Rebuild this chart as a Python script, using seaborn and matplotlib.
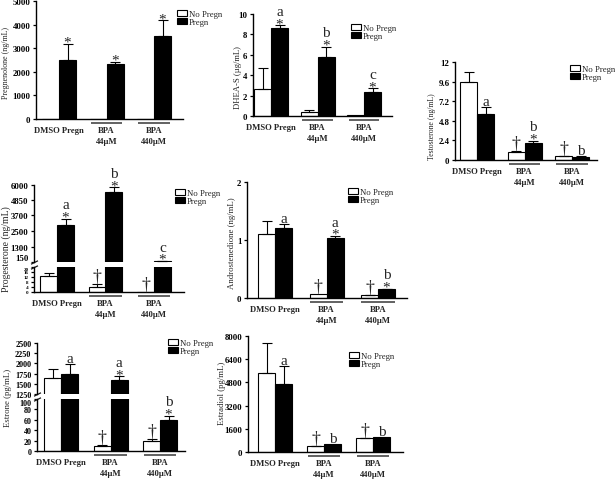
import numpy as np
import pandas as pd
import matplotlib
matplotlib.use("Agg")
import matplotlib.pyplot as plt
import matplotlib.transforms as mtransforms
from matplotlib.patches import Patch
import seaborn as sns

sns.set_theme(style="ticks")
plt.rcParams['font.family'] = ['Liberation Serif', 'DejaVu Serif']

# ---------------- data ----------------
categories = ["DMSO Pregn", "BPA\n44µM", "BPA\n440µM"]
conditions = ["No Pregn", "Pregn"]

# marks are stacked bottom -> top
preg_no = [0, 0, 0]
preg_no_err = [0, 0, 0]
preg_yes = [2480, 2330, 3500]
preg_yes_err = [700, 100, 680]
preg_no_marks = ["", "", ""]
preg_yes_marks = ["*", "*", "*"]
preg_ticks = [0, 1000, 2000, 3000, 4000, 5000]

dhea_no = [2.6, 0.4, 0.08]
dhea_no_err = [2.1, 0.15, 0.0]
dhea_yes = [8.6, 5.8, 2.4]
dhea_yes_err = [0.3, 1.0, 0.3]
dhea_no_marks = ["", "", ""]
dhea_yes_marks = ["*a", "*b", "*c"]
dhea_ticks = [0, 2, 4, 6, 8, 10]

testo_no = [9.5, 0.95, 0.45]
testo_no_err = [1.3, 0.15, 0.05]
testo_yes = [5.6, 2.05, 0.4]
testo_yes_err = [0.9, 0.3, 0.05]
testo_no_marks = ["", "†", "†"]
testo_yes_marks = ["a", "*b", "b"]
testo_ticks = [0, 2.4, 4.8, 7.2, 9.6, 12]
testo_ticklabels = ["0", "2.4", "4.8", "7.2", "9.6", "12"]

prog_no = [13, 4.3, 0]
prog_no_err = [2.2, 2.3, 0]
prog_yes = [2950, 5450, 200]
prog_yes_err = [500, 380, 30]
prog_no_marks = ["", "†", "†"]
prog_yes_marks = ["*a", "*b", "*c"]
prog_ticks_hi = [150, 1300, 2500, 3700, 4850, 6000]
prog_ticks_lo = [0, 4, 8, 12, 16, 20]

andro_no = [1.1, 0.07, 0.05]
andro_no_err = [0.22, 0.0, 0.01]
andro_yes = [1.2, 1.04, 0.15]
andro_yes_err = [0.08, 0.03, 0.01]
andro_no_marks = ["", "†", "†"]
andro_yes_marks = ["a", "*a", "*b"]
andro_ticks = [0, 1, 2]

estrone_no = [1650, 10, 19.5]
estrone_no_err = [210, 1.5, 4]
estrone_yes = [1740, 1590, 59]
estrone_yes_err = [250, 100, 9]
estrone_no_marks = ["", "†", "†"]
estrone_yes_marks = ["a", "*a", "*b"]
estrone_ticks_hi = [1250, 1500, 1750, 2000, 2250, 2500]
estrone_ticks_lo = [0, 20, 40, 60, 80, 100]

estradiol_no = [5450, 410, 960]
estradiol_no_err = [2050, 20, 20]
estradiol_yes = [4700, 540, 1030]
estradiol_yes_err = [1250, 0, 0]
estradiol_no_marks = ["", "†", "†"]
estradiol_yes_marks = ["a", "b", "b"]
estradiol_ticks = [0, 1600, 3200, 4800, 6400, 8000]

# ---------------- layout ----------------
W, H = 615, 481
fig = plt.figure(figsize=(W / 100, H / 100), dpi=100)


def rect(L, R, T, B):
    return [L / W, 1 - B / H, (R - L) / W, (B - T) / H]


def style_axes(ax, L, R, c0, s, bottom=True):
    ax.set_xlim((L - c0) / s, (R - c0) / s)
    sns.despine(ax=ax, top=True, right=True, bottom=not bottom)
    for sp in ax.spines.values():
        sp.set_linewidth(1.0)
        sp.set_color("black")
    ax.set_xlabel("")
    ax.set_ylabel("")
    ax.tick_params(axis="y", length=2.5, width=0.9, direction="out", pad=1.5, colors="black")
    if bottom:
        ax.set_xticks(range(3))
        ax.set_xticklabels(categories, fontsize=6.2, fontweight="bold", linespacing=1.45, va="top")
        ax.tick_params(axis="x", length=0, pad=5)
    else:
        ax.set_xticks([])
    ax.set_facecolor("none")


def draw_bars(ax, no, yes, no_err, yes_err, w):
    df = pd.DataFrame({
        "group": categories * 2,
        "cond": [conditions[0]] * 3 + [conditions[1]] * 3,
        "value": list(no) + list(yes),
    })
    sns.barplot(data=df, x="group", y="value", hue="cond", order=categories,
                hue_order=conditions, palette={"No Pregn": "white", "Pregn": "black"},
                edgecolor="black", linewidth=0.8, width=w, errorbar=None,
                legend=False, saturation=1, ax=ax)
    pos = []
    for cont, vals, errs in zip(ax.containers, [no, yes], [no_err, yes_err]):
        xs = [b.get_x() + b.get_width() / 2 for b in cont]
        pos.append(xs)
        xs_e = [x for x, e in zip(xs, errs) if e > 0]
        vs_e = [v for v, e in zip(vals, errs) if e > 0]
        es_e = [e for e in errs if e > 0]
        if xs_e:
            ax.errorbar(xs_e, vs_e, yerr=[np.zeros(len(es_e)), es_e], fmt="none",
                        ecolor="black", elinewidth=0.8, capsize=3.5, capthick=0.8)
    return pos


def annotate(axes, xs, vals, errs, marks):
    for x, v, e, m in zip(xs, vals, errs, marks):
        if not m:
            continue
        top = v + e
        target = axes[-1]
        for a in axes:
            lo, hi = a.get_ylim()
            if lo <= top <= hi:
                target = a
                break
        off = -1.5 if m[0] == "*" else (2.5 if m[0] == "†" else 1.5)
        prev = None
        for ch in m:
            if prev is not None:
                off += 9.0 if prev == "*" else 10.0
            target.annotate(ch, xy=(x, top), xycoords="data", xytext=(0, off),
                            textcoords="offset points", ha="center", va="baseline",
                            fontsize=13 if ch == "†" else 11, annotation_clip=False)
            prev = ch


def underline(ax, h_px):
    tr = mtransforms.blended_transform_factory(ax.transData, ax.transAxes)
    for g in [1, 2]:
        ax.plot([g - 0.33, g + 0.33], [-4 / h_px, -4 / h_px], transform=tr,
                color="#555555", lw=1.3, clip_on=False, solid_capstyle="butt")


def legend(ax, x, y):
    handles = [Patch(facecolor="white", edgecolor="black", linewidth=0.8),
               Patch(facecolor="black", edgecolor="black", linewidth=0.8)]
    ax.legend(handles, conditions, loc="upper left", bbox_to_anchor=(x / W, 1 - y / H),
              bbox_transform=fig.transFigure, frameon=False, fontsize=6.3,
              handlelength=1.1, handleheight=0.55, handletextpad=0.25,
              labelspacing=0.0, borderpad=0, borderaxespad=0)


def ylabel(ax, text, x, y, size):
    ax.set_ylabel(text, fontsize=size, va="center", ha="center")
    ax.yaxis.set_label_coords(x / W, 1 - y / H, transform=fig.transFigure)


def simple_panel(L, R, T, B, c0, s, no, yes, no_err, yes_err, no_m, yes_m,
                 ylim, ticks, ticklabels, label, lab_xy, lab_size, leg_xy):
    ax = fig.add_axes(rect(L, R, T, B))
    pos = draw_bars(ax, no, yes, no_err, yes_err, 34 / s)
    ax.set_ylim(*ylim)
    style_axes(ax, L, R, c0, s)
    ax.set_yticks(ticks, ticklabels, fontsize=6.3, fontweight="bold")
    annotate([ax], pos[0], no, no_err, no_m)
    annotate([ax], pos[1], yes, yes_err, yes_m)
    underline(ax, B - T)
    legend(ax, *leg_xy)
    ylabel(ax, label, lab_xy[0], lab_xy[1], lab_size)
    return ax


def broken_panel(L, R, T, M1, M2, B, c0, s, no, yes, no_err, yes_err, no_m, yes_m,
                 ylim_hi, ylim_lo, ticks_hi, ticks_lo, hi_size, lo_size, shift_hi,
                 label, lab_xy, lab_size, leg_xy):
    ax_hi = fig.add_axes(rect(L, R, T, M1))
    ax_lo = fig.add_axes(rect(L, R, M2, B))
    pos = draw_bars(ax_hi, no, yes, no_err, yes_err, 34 / s)
    draw_bars(ax_lo, no, yes, no_err, yes_err, 34 / s)
    ax_hi.set_ylim(*ylim_hi)
    ax_lo.set_ylim(*ylim_lo)
    style_axes(ax_hi, L, R, c0, s, bottom=False)
    style_axes(ax_lo, L, R, c0, s, bottom=True)
    ax_hi.set_yticks(ticks_hi, [str(t) for t in ticks_hi], fontsize=hi_size, fontweight="bold")
    ax_lo.set_yticks(ticks_lo, [str(t) for t in ticks_lo], fontsize=lo_size, fontweight="bold")
    # keep the two labels that meet at the break apart
    if shift_hi:
        ax_hi.get_yticklabels()[0].set_va("bottom")
    ax_lo.get_yticklabels()[-1].set_va("top")
    annotate([ax_lo, ax_hi], pos[0], no, no_err, no_m)
    annotate([ax_lo, ax_hi], pos[1], yes, yes_err, yes_m)
    underline(ax_lo, B - M2)
    legend(ax_hi, *leg_xy)
    ylabel(ax_hi, label, lab_xy[0], lab_xy[1], lab_size)
    # break marks
    kw = dict(marker=[(-1, -0.5), (1, 0.5)], markersize=5, linestyle="none",
              color="k", mec="k", mew=0.9, clip_on=False)
    ax_hi.plot([0], [0], transform=ax_hi.transAxes, **kw)
    ax_lo.plot([0], [1], transform=ax_lo.transAxes, **kw)
    return ax_hi, ax_lo


# Pregnenolone
simple_panel(36, 183, 2, 120, 59, 47.5, preg_no, preg_yes, preg_no_err, preg_yes_err,
             preg_no_marks, preg_yes_marks, (0, 5000), preg_ticks,
             [str(t) for t in preg_ticks], "Pregnenolone (ng/mL)", (6, 63), 5.8, (177, 11))

# DHEA-S
simple_panel(253, 392, 15, 117, 271, 46.5, dhea_no, dhea_yes, dhea_no_err, dhea_yes_err,
             dhea_no_marks, dhea_yes_marks, (0, 10), dhea_ticks,
             [str(t) for t in dhea_ticks], "DHEA-S (µg/mL)", (238, 78), 6.2, (351, 25))

# Testosterone
simple_panel(455, 597, 63, 161, 477, 47.5, testo_no, testo_yes, testo_no_err, testo_yes_err,
             testo_no_marks, testo_yes_marks, (0, 12), testo_ticks, testo_ticklabels,
             "Testosterone (ng/mL)", (432, 127), 5.6, (570, 66))

# Progesterone (broken axis)
broken_panel(34, 184, 186, 263, 268, 293, 57, 48.5, prog_no, prog_yes, prog_no_err,
             prog_yes_err, prog_no_marks, prog_yes_marks, (150, 6000), (0, 20),
             prog_ticks_hi, prog_ticks_lo, 6.3, 3.6, True, "Progesterone (ng/mL)", (6, 249),
             7.0, (175, 190))

# Androstenedione
simple_panel(247, 407, 183, 299, 275, 51.5, andro_no, andro_yes, andro_no_err, andro_yes_err,
             andro_no_marks, andro_yes_marks, (0, 2), andro_ticks,
             [str(t) for t in andro_ticks], "Androstenedione (ng/mL)", (232, 243), 6.3,
             (348, 189))

# Estrone (broken axis)
broken_panel(37, 185, 344, 395, 400, 452, 61, 49.5, estrone_no, estrone_yes, estrone_no_err,
             estrone_yes_err, estrone_no_marks, estrone_yes_marks, (1250, 2500), (0, 100),
             estrone_ticks_hi, estrone_ticks_lo, 5.9, 5.9, False, "Estrone (pg/mL)", (8, 398),
             6.3, (168, 340))

# Estradiol
simple_panel(248, 403, 337, 453, 275, 49, estradiol_no, estradiol_yes, estradiol_no_err,
             estradiol_yes_err, estradiol_no_marks, estradiol_yes_marks, (0, 8000),
             estradiol_ticks, [str(t) for t in estradiol_ticks], "Estradiol (pg/mL)",
             (222, 393), 6.3, (349, 353))

fig.savefig("out.png", dpi=100, facecolor="white")
